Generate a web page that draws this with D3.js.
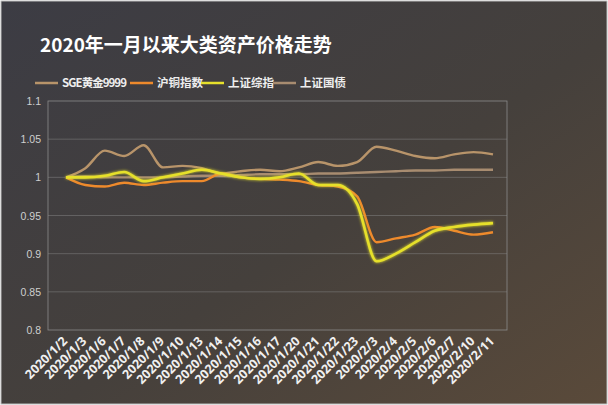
<!DOCTYPE html>
<html><head><meta charset="utf-8">
<script src="https://cdn.jsdelivr.net/npm/d3@7"></script>
<style>body{margin:0;background:#fff}svg{display:block}</style>
</head><body><svg id="c" width="608" height="405"></svg>
<script>
const dates = ["2020/1/2","2020/1/3","2020/1/6","2020/1/7","2020/1/8","2020/1/9","2020/1/10","2020/1/13","2020/1/14","2020/1/15","2020/1/16","2020/1/17","2020/1/20","2020/1/21","2020/1/22","2020/1/23","2020/2/3","2020/2/4","2020/2/5","2020/2/6","2020/2/7","2020/2/10","2020/2/11"];
const gold = [1,1.012,1.035,1.028,1.042,1.013,1.015,1.012,1.005,1.008,1.01,1.008,1.013,1.02,1.015,1.02,1.04,1.035,1.028,1.025,1.03,1.033,1.03];
const copper = [1,0.99,0.988,0.993,0.99,0.993,0.995,0.995,1.005,1.0,0.998,0.997,0.995,0.99,0.988,0.975,0.915,0.92,0.925,0.935,0.93,0.925,0.928];
const sse = [1,1.0,1.002,1.007,0.995,1.0,1.005,1.01,1.005,1.0,0.998,1.0,1.005,0.99,0.99,0.965,0.89,0.9,0.915,0.93,0.935,0.938,0.94];
const bond = [1,1.001,1.0,1.0,1.0,1.0,1.001,1.002,1.002,1.003,1.004,1.004,1.004,1.005,1.005,1.006,1.007,1.008,1.009,1.009,1.01,1.01,1.01];
const yTicks = [0.8,0.85,0.9,0.95,1,1.05,1.1];
const series = [
  {name:"SGE黄金9999", values:gold, color:"#b8946a"},
  {name:"沪铜指数", values:copper, color:"#ee8a2c"},
  {name:"上证综指", values:sse, color:"#e6e02c"},
  {name:"上证国债", values:bond, color:"#a88c70"}
];

const svg = d3.select("#c");
const defs = svg.append("defs");
const bg = defs.append("linearGradient").attr("id","bg").attr("x1",0).attr("x2",1).attr("y1",0).attr("y2",1);
bg.append("stop").attr("offset","0%").attr("stop-color","#3c3c44");
bg.append("stop").attr("offset","55%").attr("stop-color","#45403c");
bg.append("stop").attr("offset","100%").attr("stop-color","#5a4a3a");
const glow = defs.append("filter").attr("id","glow");
glow.append("feGaussianBlur").attr("stdDeviation",1.5).attr("result","b");
const m = glow.append("feMerge");
m.append("feMergeNode").attr("in","b");
m.append("feMergeNode").attr("in","SourceGraphic");

svg.append("rect").attr("x",1).attr("y",1).attr("width",606).attr("height",403).attr("fill","url(#bg)").attr("stroke","#bbb");

const x = d3.scalePoint().domain(dates).range([66,493]);
const y = d3.scaleLinear().domain([0.8,1.1]).range([330,101]);

svg.append("rect").attr("x",48).attr("y",101).attr("width",459).attr("height",229)
  .attr("fill","none").attr("stroke","#8a8a8a").attr("stroke-width",0.8);
svg.append("g").selectAll("line").data(yTicks.slice(1,-1)).join("line")
  .attr("x1",48).attr("x2",507).attr("y1",d=>y(d)).attr("y2",d=>y(d))
  .attr("stroke","#8a8a8a").attr("stroke-opacity",0.6).attr("stroke-width",0.8);
svg.append("g").selectAll("text").data(yTicks).join("text")
  .attr("x",41).attr("y",d=>y(d)+4).attr("text-anchor","end")
  .attr("fill","#cfcfcf").attr("font-family","Liberation Sans").attr("font-size",10.5)
  .text(d=>d);

svg.append("g").selectAll("text").data(dates).join("text")
  .attr("transform",d=>`translate(${x(d)+2},${342}) rotate(-45)`)
  .attr("text-anchor","end").attr("fill","#f0f0f0")
  .attr("font-family","Open Sans").attr("font-weight","bold").attr("font-size",12.5)
  .text(d=>d);

const line = d3.line().x((d,i)=>x(dates[i])).y(d=>y(d)).curve(d3.curveMonotoneX);
const order = [3,0,1,2];
order.forEach(k=>{
  const s = series[k];
  svg.append("path").attr("d",line(s.values)).attr("fill","none")
    .attr("stroke",s.color).attr("stroke-width",k===2?2.6:2.4)
    .attr("filter",k===2?"url(#glow)":null);
});

svg.append("text").attr("x",40).attr("y",52).attr("fill","#fff")
  .attr("font-family","Noto Sans CJK SC").attr("font-weight","bold").attr("font-size",19)
  .text("2020年一月以来大类资产价格走势");

const lg = svg.append("g").attr("font-family","Noto Sans CJK SC").attr("font-weight","bold").attr("font-size",11.5).attr("fill","#eee");
const lx = [35,130,201,273];
series.forEach((s,i)=>{
  lg.append("line").attr("x1",lx[i]).attr("x2",lx[i]+23).attr("y1",83).attr("y2",83)
    .attr("stroke",s.color).attr("stroke-width",2.5);
  lg.append("text").attr("x",lx[i]+27).attr("y",87).attr("textLength",i===0?65:null).text(s.name);
});
</script></body></html>
